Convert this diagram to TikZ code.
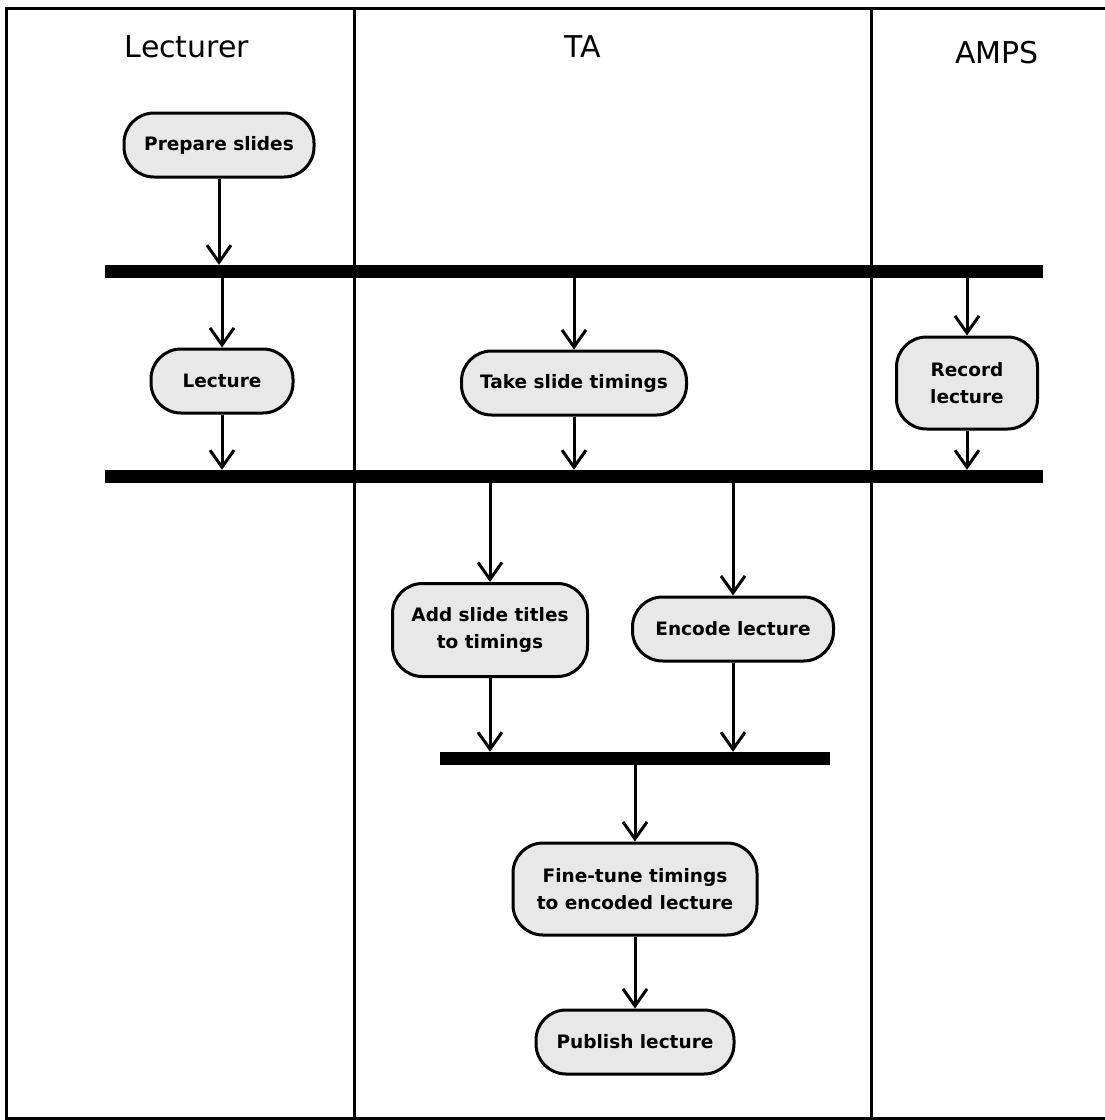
\documentclass[tikz,border=0pt]{standalone}
\usepackage{fontspec}
\setmainfont{DejaVu Sans}
\usetikzlibrary{arrows.meta}
\definecolor{actfill}{RGB}{232,232,232}
\begin{document}
\begin{tikzpicture}[x=1pt,y=-1pt,
  lane/.style={line width=3pt,draw=black},
  lanehead/.style={font=\fontsize{30}{36}\selectfont,inner sep=0pt,anchor=base},
  activity/.style={draw=black,line width=3pt,fill=actfill,rounded corners=30pt,
    align=center,inner sep=0pt,minimum height=64pt,
    font=\fontsize{18.5}{27}\selectfont\bfseries},
  syncbar/.style={fill=black,inner sep=0pt,minimum height=13pt},
  flow/.style={line width=3pt,-{Straight Barb[length=17pt,width=24pt,line width=3pt]}}]
\useasboundingbox (0,0) rectangle (1104,1120);
\fill[white] (0,0) rectangle (1104,1120);

% swimlane frame and dividers
\draw[lane] (1110,8) -- (6,8) -- (6,1118) -- (1110,1118);
\draw[lane] (354,8) -- (354,1118);
\draw[lane] (871,8) -- (871,1118);

% lane headings
\node[lanehead] (hlect) at (187,57) {Lecturer};
\node[lanehead] (hta)   at (583,57) {TA};
\node[lanehead] (hamps) at (997,63) {AMPS};

% synchronisation bars
\node[syncbar,minimum width=938pt] (bar1) at (574,271.5) {};
\node[syncbar,minimum width=938pt] (bar2) at (574,476.5) {};
\node[syncbar,minimum width=390pt] (bar3) at (635,758.5) {};

% activities
\node[activity,minimum width=190pt] (prep) at (219,145) {Prepare slides};
\node[activity,minimum width=142pt] (lect) at (222,381) {Lecture};
\node[activity,minimum width=225pt] (take) at (574,383) {Take slide timings};
\node[activity,minimum width=141pt,minimum height=92pt] (rec) at (967,383) {Record\\lecture};
\node[activity,minimum width=195pt,minimum height=93pt] (add) at (490,630) {Add slide titles\\to timings};
\node[activity,minimum width=201pt] (enc) at (733,629) {Encode lecture};
\node[activity,minimum width=244pt,minimum height=92pt] (fine) at (635,889) {Fine-tune timings\\to encoded lecture};
\node[activity,minimum width=198pt] (pub) at (635,1042) {Publish lecture};

% control flow
\draw[flow] (prep.south) -- (prep.south |- bar1.north);
\draw[flow] (bar1.south -| lect.north) -- (lect.north);
\draw[flow] (bar1.south -| take.north) -- (take.north);
\draw[flow] (bar1.south -| rec.north) -- (rec.north);
\draw[flow] (lect.south) -- (lect.south |- bar2.north);
\draw[flow] (take.south) -- (take.south |- bar2.north);
\draw[flow] (rec.south) -- (rec.south |- bar2.north);
\draw[flow] (bar2.south -| add.north) -- (add.north);
\draw[flow] (bar2.south -| enc.north) -- (enc.north);
\draw[flow] (add.south) -- (add.south |- bar3.north);
\draw[flow] (enc.south) -- (enc.south |- bar3.north);
\draw[flow] (bar3.south -| fine.north) -- (fine.north);
\draw[flow] (fine.south) -- (pub.north);
\end{tikzpicture}
\end{document}
